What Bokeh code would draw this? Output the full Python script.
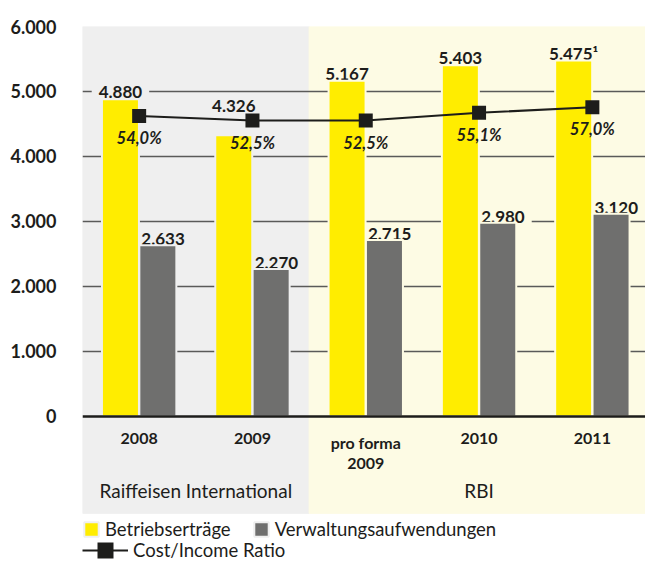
from bokeh.plotting import figure
from bokeh.models import (Range1d, FixedTicker, Span, Legend, LegendItem, ColumnDataSource)
from bokeh.core.properties import value
from bokeh.embed import file_html
from bokeh.resources import INLINE

# ---------------- data ----------------
categories = ["2008", "2009", "pro forma\n2009", "2010", "2011"]
betriebsertraege = [4880, 4326, 5167, 5403, 5475]
verwaltungsaufwendungen = [2633, 2270, 2715, 2980, 3120]
cost_income_ratio = [54.0, 52.5, 52.5, 55.1, 57.0]
footnotes = ["", "", "", "", "\u00b9"]
groups = ["Raiffeisen International", "RBI"]
group_first = [0, 2]
group_last = [1, 4]
y_ticks = [0, 1000, 2000, 3000, 4000, 5000, 6000]

# ---------------- style / layout ----------------
FONT = "Lato"
YELLOW = "#ffed00"
GREY = "#6f6f6e"
DARK = "#1d1d1b"
GROUP_BG = ["#efefef", "#fdfbe4"]
GRID = "#5a5a59"
# extra upward shift (px) of yellow value labels that would collide with the ratio line
yellow_label_lift = [0, 22, 0, 0, 0]


def de(n):
    return f"{n:,}".replace(",", ".")


idx = list(range(len(categories)))
bg_of = {}
for g, (a, b) in enumerate(zip(group_first, group_last)):
    for i in range(a, b + 1):
        bg_of[i] = GROUP_BG[g]

OFF = 0.165
BAR_W = 0.3266

src = ColumnDataSource(dict(
    xy=[i - OFF for i in idx],
    xg=[i + OFF for i in idx],
    xg_left=[i + OFF - BAR_W / 2 for i in idx],
    ey=betriebsertraege,
    vy=verwaltungsaufwendungen,
    ely=[de(v) + f for v, f in zip(betriebsertraege, footnotes)],
    vly=[de(v) for v in verwaltungsaufwendungen],
    ey_off=[-7 - l for l in yellow_label_lift],
    bg=[bg_of[i] for i in idx],
))

p = figure(width=645, height=561, output_backend="svg", toolbar_location=None,
           x_range=Range1d(-0.5, 4.469), y_range=Range1d(-2231, 6000),
           x_axis_location=None,
           min_border_left=82, min_border_right=0, min_border_top=26, min_border_bottom=0,
           outline_line_color=None, background_fill_color="white", border_fill_color="white")
p.extra_y_ranges = {"ratio": Range1d(-96.49, 84.26)}

# axis
ax = p.yaxis[0]
ax.ticker = FixedTicker(ticks=y_ticks)
ax.major_label_overrides = {t: de(t) for t in y_ticks}
ax.major_label_standoff = 20
ax.major_tick_line_color = None
ax.minor_tick_line_color = None
ax.axis_line_color = None
ax.major_label_text_font = FONT
ax.major_label_text_font_size = "18px"
ax.major_label_text_font_style = "bold"
ax.major_label_text_color = DARK

p.xgrid.visible = False
p.ygrid.ticker = FixedTicker(ticks=y_ticks[1:])
p.ygrid.grid_line_color = GRID
p.ygrid.grid_line_width = 1.3

# group backgrounds
BG_BOTTOM = -1490
p.quad(left=[a - 0.5 for a in group_first], right=[b + 0.5 for b in group_last],
       bottom=BG_BOTTOM, top=y_ticks[-1], color=GROUP_BG, level="image")

# value labels (drawn before bars so their boxes stay behind the bars)
lbl_kw = dict(text_baseline="alphabetic", text_font=value(FONT), text_font_size="17px",
              text_font_style="bold", text_color=DARK, background_fill_color="bg",
              padding=(7, 2), source=src)
p.text(x="xy", y="ey", text="ely", text_align="center", y_offset="ey_off", **lbl_kw)
p.text(x="xg_left", y="vy", text="vly", text_align="left", x_offset=-5, y_offset=-6, **lbl_kw)

# bars
bar_y = p.vbar(x="xy", top="ey", bottom=0, width=BAR_W, fill_color=YELLOW,
               line_color="bg", line_width=2, source=src)
bar_g = p.vbar(x="xg", top="vy", bottom=0, width=BAR_W, fill_color=GREY,
               line_color="bg", line_width=2, source=src)

# zero line
p.add_layout(Span(location=0, dimension="width", line_color=DARK, line_width=2.5))

# cost/income ratio
r_line = p.line(idx, cost_income_ratio, y_range_name="ratio", line_color=DARK, line_width=2)
r_pts = p.scatter(idx, cost_income_ratio, y_range_name="ratio", marker="square", size=14,
                  fill_color=DARK, line_color=None)
p.text(x=idx, y=cost_income_ratio, y_range_name="ratio",
       text=[f"{r:.1f}".replace(".", ",") + "%" for r in cost_income_ratio],
       text_align="center", text_baseline="middle", y_offset=22,
       text_font=value(FONT), text_font_size="16.5px", text_font_style="bold italic",
       text_color=DARK)

# category labels
p.text(x=idx, y=[y_ticks[0]] * len(idx), text=categories, text_align="center",
       text_baseline="top", y_offset=17, text_font=value(FONT), text_font_size="16px",
       text_font_style="bold", text_color=DARK, text_line_height=1.05)

# group labels
p.text(x=[(a + b) / 2 for a, b in zip(group_first, group_last)], y=[y_ticks[0]] * len(groups),
       text=groups, text_align="center", text_baseline="middle", y_offset=74,
       text_font=value(FONT), text_font_size="19px", text_color=DARK)

# legends
leg_kw = dict(background_fill_alpha=0, border_line_color=None, padding=0, margin=0,
              label_standoff=5, label_text_font=FONT, label_text_font_size="18.5px",
              label_text_color=DARK, label_height=16)
leg1 = Legend(items=[LegendItem(label="Betriebserträge", renderers=[bar_y]),
                     LegendItem(label="Verwaltungsaufwendungen", renderers=[bar_g])],
              location=(0, 21), orientation="horizontal", spacing=21,
              glyph_width=18, glyph_height=18, **leg_kw)
leg2 = Legend(items=[LegendItem(label="Cost/Income Ratio", renderers=[r_line, r_pts])],
              location=(0, -9), orientation="horizontal", glyph_width=46, glyph_height=40,
              **leg_kw)
p.add_layout(leg1)
p.add_layout(leg2)

open("out.html", "w").write(file_html(p, INLINE))
